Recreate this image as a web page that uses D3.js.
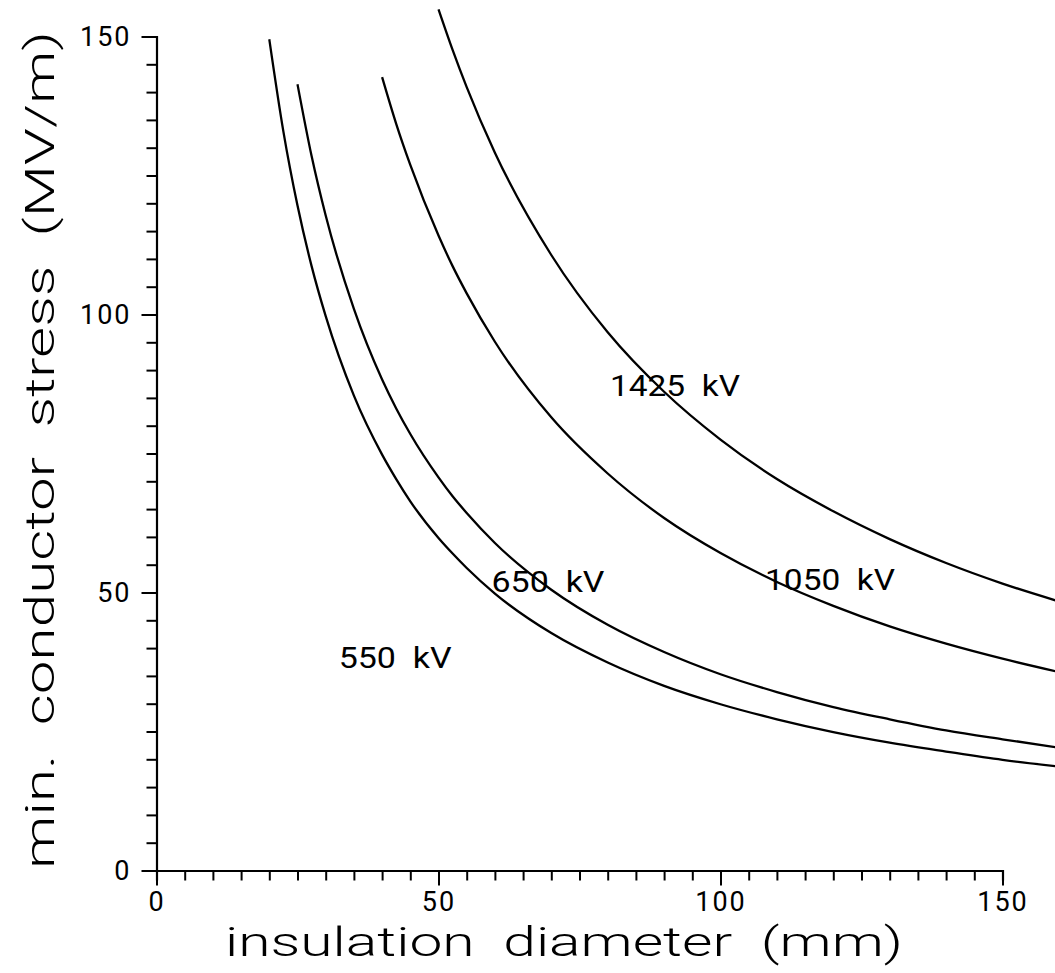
<!DOCTYPE html>
<html>
<head>
<meta charset="utf-8">
<script src="https://cdn.jsdelivr.net/npm/d3@7"></script>
<style>
  html, body { margin: 0; padding: 0; background: #fff; }
  svg { display: block; }
  text { font-family: Roboto, "Liberation Sans", sans-serif; fill: #000; white-space: pre; }
</style>
</head>
<body>
<svg id="chart" width="1055" height="973"></svg>
<script>
// ---- data ----
const diameter = [20, 22.5, 25, 27.5, 30, 35, 40, 42.5, 45, 50, 52.5, 55, 60, 70, 80, 90, 100, 110, 120, 130, 140, 150, 160];
const stress550  = [149.5, 132.9, 119.6, 108.7, 99.7, 85.4, 74.8, 70.4, 66.4, 59.8, 57.0, 54.4, 49.8, 42.7, 37.4, 33.2, 29.9, 27.2, 24.9, 23.0, 21.4, 19.9, 18.7];
const stress650  = [null, null, 141.4, 128.5, 117.8, 101.0, 88.3, 83.1, 78.5, 70.7, 67.3, 64.3, 58.9, 50.5, 44.2, 39.3, 35.3, 32.1, 29.4, 27.2, 25.2, 23.6, 22.1];
const stress1050 = [null, null, null, null, null, null, 142.7, 134.3, 126.9, 114.2, 108.7, 103.8, 95.1, 81.5, 71.4, 63.4, 57.1, 51.9, 47.6, 43.9, 40.8, 38.1, 35.7];
const stress1425 = [null, null, null, null, null, null, null, null, null, 154.9, 147.6, 140.9, 129.1, 110.7, 96.8, 86.1, 77.5, 70.4, 64.6, 59.6, 55.3, 51.6, 48.4];

const seriesNames = ["550  kV", "650  kV", "1050  kV", "1425  kV"];
// label anchor positions in data units (diameter, stress)
const labelX = [32.3, 59.4, 107.9, 80.4];
const labelY = [36.4, 50.1, 50.4, 85.4];

const xTicksMajor = [0, 50, 100, 150];
const yTicksMajor = [0, 50, 100, 150];
const xTicksMinor = d3.range(0, 151, 5);
const yTicksMinor = d3.range(0, 151, 5);

const xTitle = "insulation  diameter  (mm)";
const yTitle = "min.  conductor  stress  (MV/m)";

// ---- drawing ----
const svg = d3.select("#chart");
const x = d3.scaleLinear().domain([0, 150]).range([156.5, 1002.5]);
const y = d3.scaleLinear().domain([0, 150]).range([870.5, 36.5]);

const FONT = "Roboto, 'Liberation Sans', sans-serif";

// minor x axis
const gx = svg.append("g").attr("transform", `translate(0,${y(0)})`);
gx.call(d3.axisBottom(x).tickValues(xTicksMinor).tickSize(10).tickFormat(""));
const gxM = svg.append("g").attr("transform", `translate(0,${y(0)})`);
gxM.call(d3.axisBottom(x).tickValues(xTicksMajor).tickSize(15).tickPadding(6).tickFormat(d3.format("d")));
gxM.select(".domain").remove();

const gy = svg.append("g").attr("transform", `translate(${x(0)},0)`);
gy.call(d3.axisLeft(y).tickValues(yTicksMinor).tickSize(10).tickFormat(""));
const gyM = svg.append("g").attr("transform", `translate(${x(0)},0)`);
gyM.call(d3.axisLeft(y).tickValues(yTicksMajor).tickSize(15).tickPadding(10).tickFormat(d3.format("d")));
gyM.select(".domain").remove();

svg.selectAll(".domain").attr("stroke", "#000").attr("stroke-width", 2.2);
svg.selectAll(".tick line").attr("stroke", "#000").attr("stroke-width", 2);
svg.selectAll(".tick text")
  .attr("font-size", 27)
  .attr("font-family", FONT)
  .attr("letter-spacing", "2px")
  .style("fill", "#000");

// curves
const allSeries = [stress550, stress650, stress1050, stress1425];
const line = d3.line()
  .x(d => x(d[0]))
  .y(d => y(d[1]))
  .curve(d3.curveMonotoneX);

allSeries.forEach(s => {
  const pts = diameter.map((d, i) => [d, s[i]]).filter(p => p[1] != null);
  svg.append("path")
    .datum(pts)
    .attr("fill", "none")
    .attr("stroke", "#000")
    .attr("stroke-width", 2.3)
    .attr("d", line);
});

// series labels
const labelWidths = [113, 113, 130, 130];
seriesNames.forEach((nm, i) => {
  svg.append("text")
    .attr("x", x(labelX[i]))
    .attr("y", y(labelY[i]))
    .attr("font-size", 30)
    .attr("textLength", labelWidths[i])
    .attr("lengthAdjust", "spacingAndGlyphs")
    .text(nm);
});

// axis titles
svg.append("text")
  .attr("x", 225)
  .attr("y", 956)
  .attr("font-size", 40)
  .attr("font-weight", 300)
  .attr("textLength", 678)
  .attr("lengthAdjust", "spacingAndGlyphs")
  .text(xTitle);

svg.append("text")
  .attr("transform", "translate(54,869) rotate(-90)")
  .attr("x", 0)
  .attr("y", 0)
  .attr("font-size", 40)
  .attr("font-weight", 300)
  .attr("textLength", 838)
  .attr("lengthAdjust", "spacingAndGlyphs")
  .text(yTitle);
</script>
</body>
</html>
